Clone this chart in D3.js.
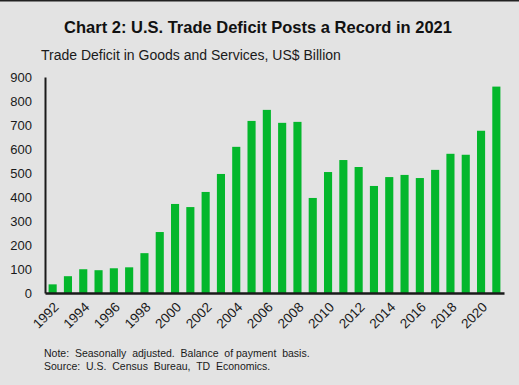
<!DOCTYPE html>
<html><head><meta charset="utf-8">
<script src="https://cdn.jsdelivr.net/npm/d3@7"></script>
<style>
html,body{margin:0;padding:0;background:#e3e3e3;}
svg{display:block;font-family:"Liberation Sans",Arial,sans-serif;}
text.pre{white-space:pre;}
</style></head><body>
<svg id="c" width="519" height="385"></svg>
<script>
const years = d3.range(1992, 2022).map(String);
const deficit = [36,70,99,95,103,107,166,254,371,358,421,496,609,717,763,709,713,396,504,554,525,446,483,492,479,513,580,576,676,860];
const yTicks = [0,100,200,300,400,500,600,700,800,900];
const xTickLabels = years.filter((d,i)=>i%2===0);

const svg = d3.select("#c");
svg.append("rect").attr("width",519).attr("height",385).attr("fill","#e3e3e3");
svg.append("rect").attr("width",519).attr("height",1.5).attr("fill","#222");

const m = {left:45, right:15, top:77, bottom:92};
const W = 519, H = 385;
const x = d3.scaleBand().domain(years).range([m.left, W - m.right]).paddingInner(0.47).paddingOuter(0.235);
const y = d3.scaleLinear().domain([0,900]).range([H - m.bottom, m.top]);

svg.append("text").attr("x",258).attr("y",33).attr("text-anchor","middle")
  .attr("font-weight","bold").attr("font-size",16.5).attr("fill","#111")
  .text("Chart 2: U.S. Trade Deficit Posts a Record in 2021");
svg.append("text").attr("x",41).attr("y",60).attr("font-size",14).attr("fill","#1a1a1a")
  .text("Trade Deficit in Goods and Services, US$ Billion");

svg.selectAll("rect.bar").data(deficit).join("rect").attr("class","bar")
  .attr("x",(d,i)=>x(years[i])).attr("width",x.bandwidth())
  .attr("y",d=>y(d)).attr("height",d=>y(0)-y(d)).attr("fill","#04b72c");

const ya = svg.append("g").attr("transform",`translate(${m.left},0)`)
  .call(d3.axisLeft(y).tickValues(yTicks).tickSize(0).tickPadding(13));
ya.select(".domain").attr("stroke","#1a1a1a").attr("stroke-width",2);
ya.selectAll("text").attr("font-size",13).attr("fill","#1a1a1a").attr("font-family","Liberation Sans, Arial, sans-serif");

const xa = svg.append("g").attr("transform",`translate(0,${y(0)})`)
  .call(d3.axisBottom(x).tickValues(xTickLabels).tickSize(0).tickPadding(0));
xa.select(".domain").attr("stroke","#1a1a1a").attr("stroke-width",2.5);
xa.selectAll("text").attr("font-size",13.5).attr("fill","#1a1a1a")
  .attr("font-family","Liberation Sans, Arial, sans-serif")
  .attr("text-anchor","end").attr("dy",0)
  .attr("transform","translate(7,15) rotate(-45)");

svg.append("text").attr("class","pre").attr("x",44).attr("y",357).attr("font-size",10.5).attr("fill","#1a1a1a")
  .text("Note:  Seasonally  adjusted.  Balance  of payment  basis.");
svg.append("text").attr("class","pre").attr("x",44).attr("y",369.5).attr("font-size",10.5).attr("fill","#1a1a1a")
  .text("Source:  U.S.  Census  Bureau,  TD  Economics.");
</script></body></html>
